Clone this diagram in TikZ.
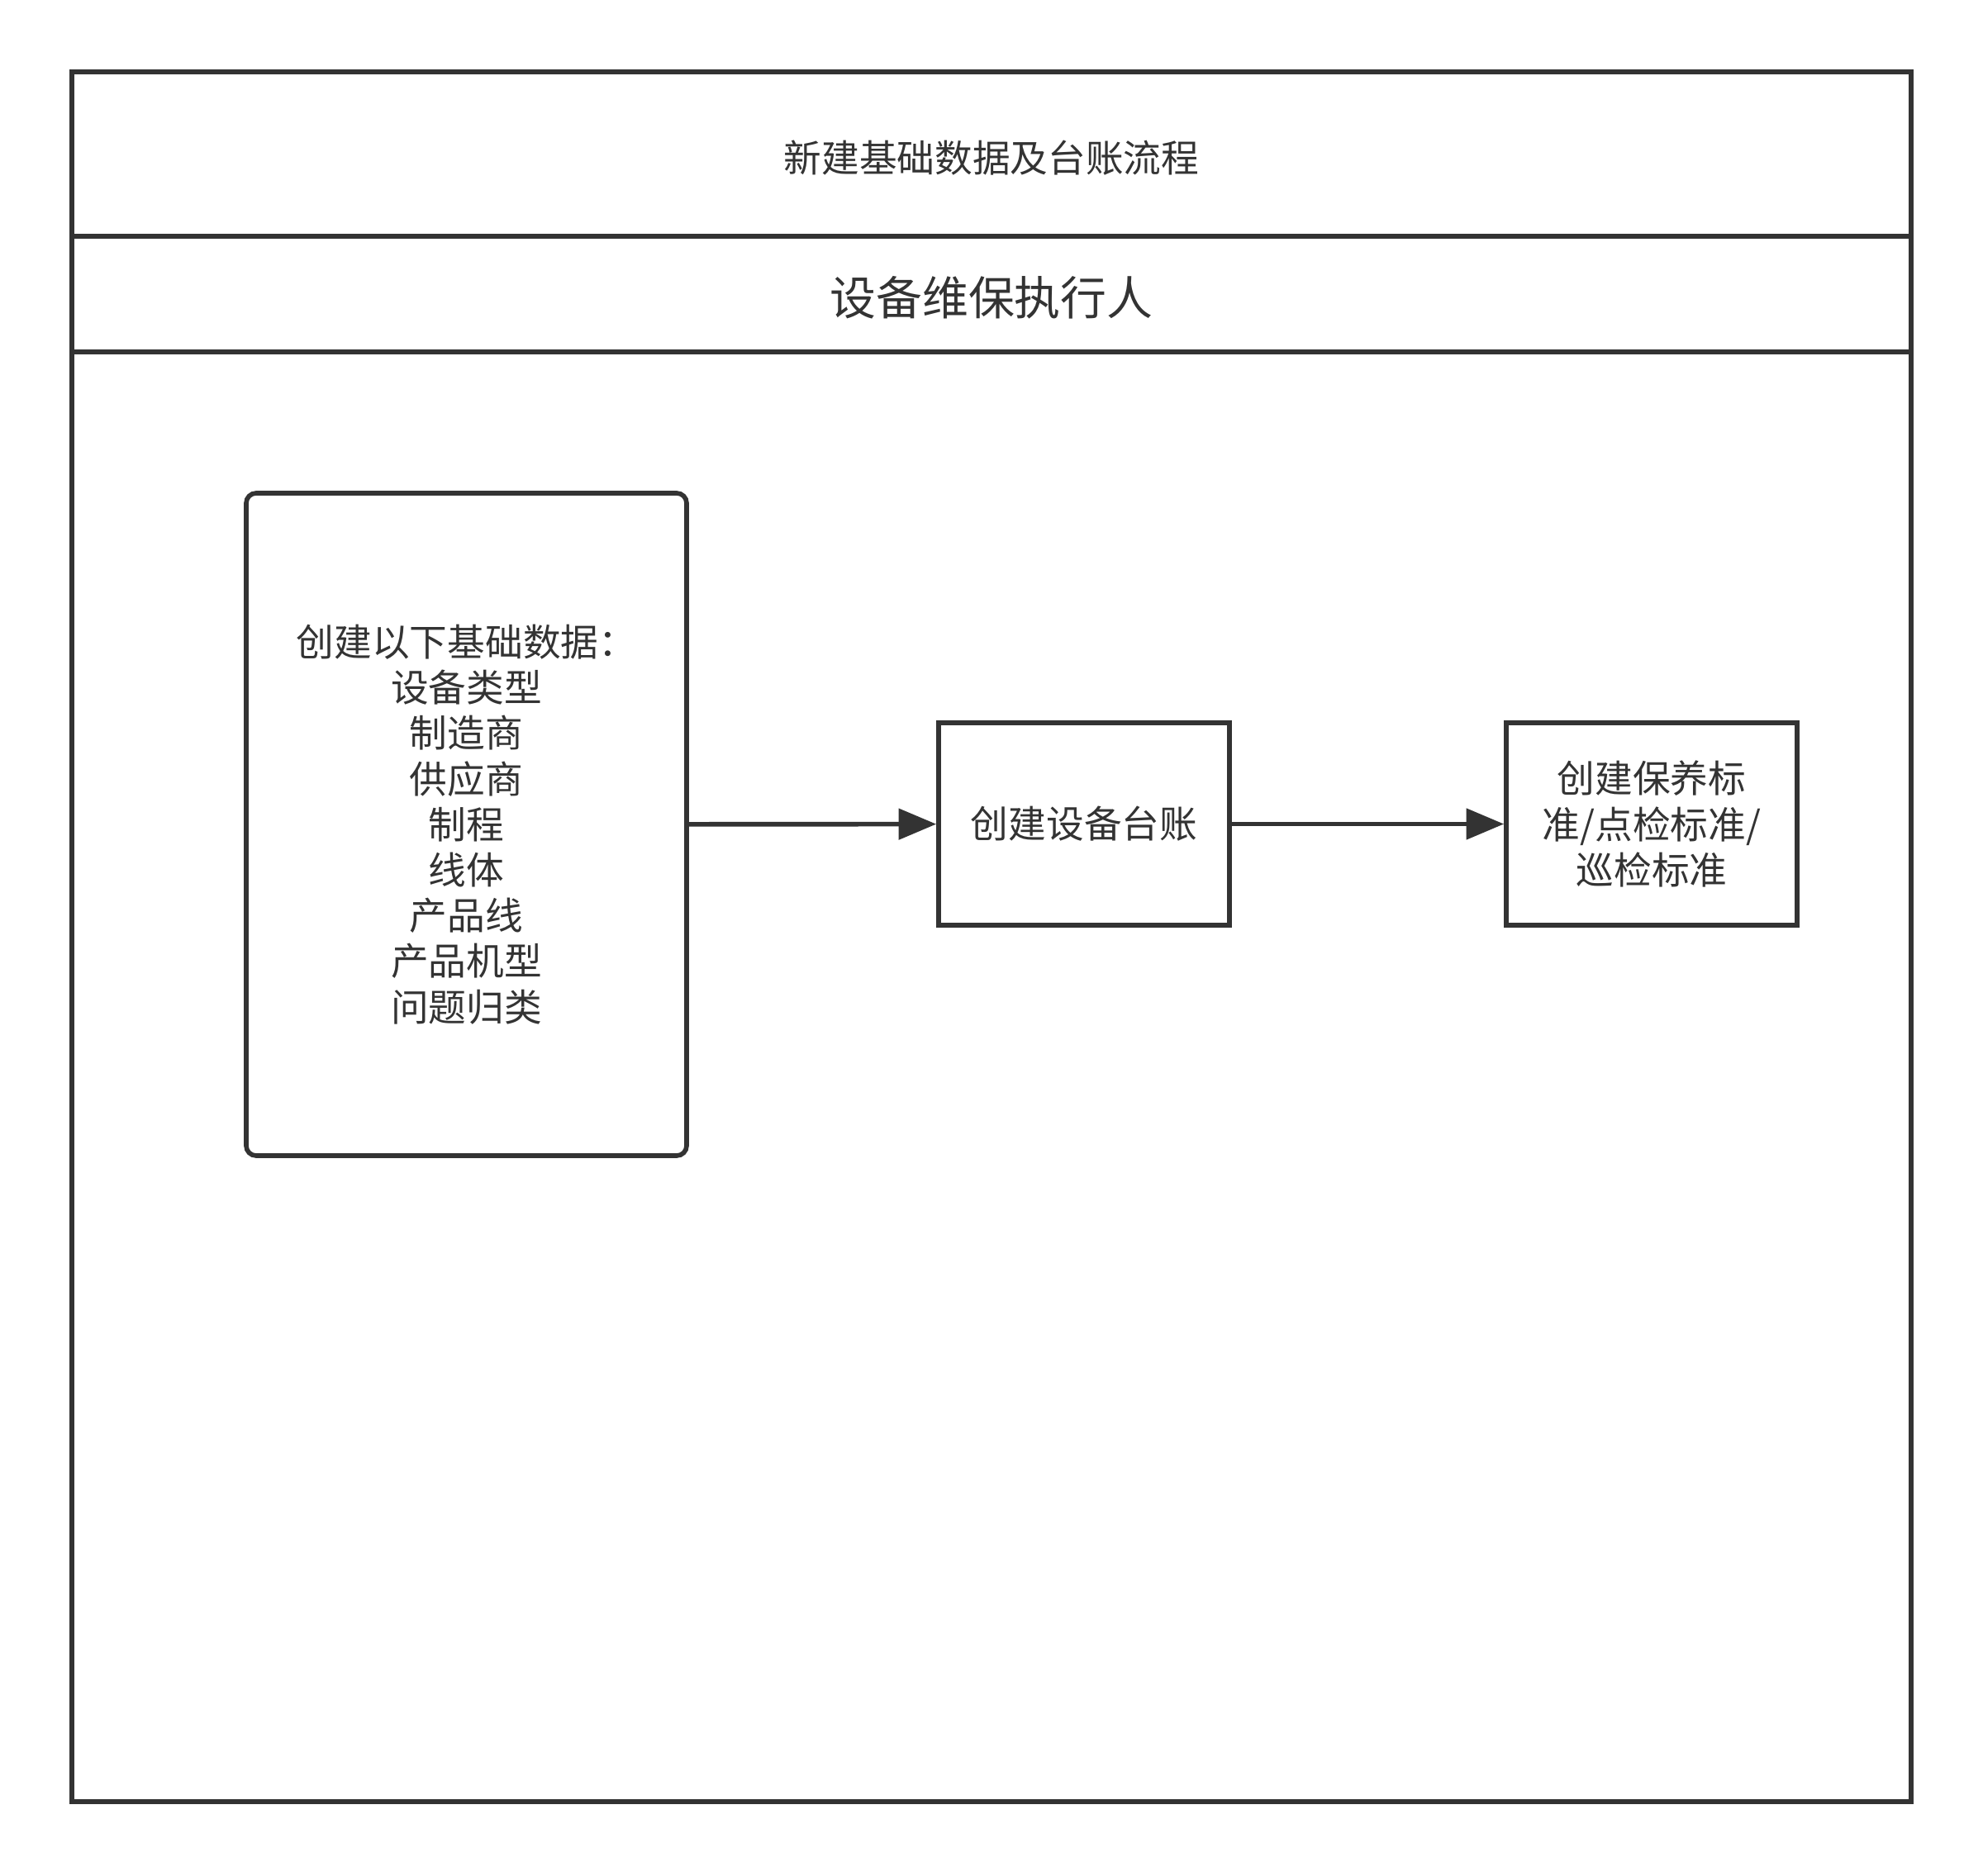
\documentclass[tikz,border=0pt]{standalone}
\usepackage{fontspec}
\setmainfont{Noto Sans CJK SC}
\usetikzlibrary{arrows.meta}
\definecolor{ink}{HTML}{333333}

\begin{document}
\begin{tikzpicture}
    \tikzset{
      frame/.style={draw=ink, line width=1.6pt},
      task/.style={draw=ink, line width=1.6pt, text=ink, align=center, inner sep=2pt,
        font=\fontsize{13}{15.7}\selectfont},
      flow/.style={draw=ink, line width=1.6pt, -{Triangle[length=13pt, width=10.5pt]}}
    }
    \useasboundingbox (0,0) rectangle (24,-22.7);

    % Rahmen: Titel, Bahn-Kopf, Bahn
    \draw[frame] (0.87,-0.87) rectangle (23.13,-21.81);
    \draw[frame] (0.87,-2.86) -- (23.13,-2.86);
    \draw[frame] (0.87,-4.26) -- (23.13,-4.26);
    \node[text=ink, font=\fontsize{13}{15}\selectfont] (title) at (12.0,-1.91) {新建基础数据及台账流程};
    \node[text=ink, font=\fontsize{15.9}{18}\selectfont] (lane) at (12.0,-3.60) {设备维保执行人};

    % Schritte
    \node[task, rounded corners=0.12cm, minimum width=5.33cm, minimum height=8.02cm] (base) at (5.645,-9.98)
      {创建以下基础数据：\\设备类型\\制造商\\供应商\\制程\\线体\\产品线\\产品机型\\问题归类};
    \node[task, minimum width=3.52cm, minimum height=2.45cm] (ledger) at (13.12,-9.975) {创建设备台账};
    \node[task, minimum width=3.52cm, minimum height=2.45cm] (std) at (19.99,-9.975)
      {创建保养标\\准/点检标准/\\巡检标准};

    % Pfeile
    \draw[flow] (base) -- (ledger);
    \draw[flow] (ledger) -- (std);
  \end{tikzpicture}
\end{document}
